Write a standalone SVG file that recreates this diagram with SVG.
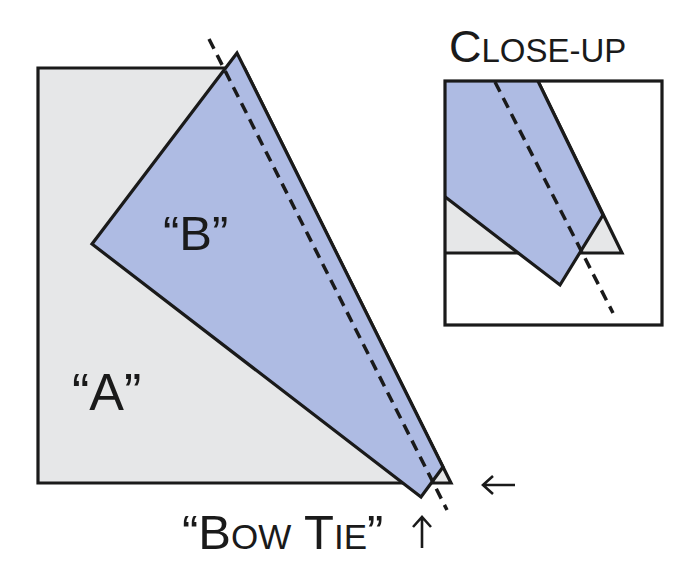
<svg xmlns="http://www.w3.org/2000/svg" width="700" height="568" viewBox="0 0 700 568">
<style>
.ln{stroke:#1a1a1a;stroke-width:3.2;stroke-linejoin:miter;fill:none}
.gray{fill:#e6e7e8;stroke:#1a1a1a;stroke-width:3.2}
.blue{fill:#aebbe3;stroke:#1a1a1a;stroke-width:3.2}
.dash{stroke:#1a1a1a;stroke-width:3.5;stroke-dasharray:11 7;fill:none}
.t{font-family:"Liberation Sans",Arial,sans-serif;fill:#1a1a1a}
.arr{stroke:#1a1a1a;stroke-width:2.6;fill:none;stroke-linecap:butt}
</style>
<defs>
<clipPath id="insetClip"><rect x="445" y="81" width="217" height="244"/></clipPath>
</defs>
<rect width="700" height="568" fill="#ffffff"/>
<g id="pieceA">
<polygon class="gray" points="38,68 244.5,68 451,483 38,483"/>
</g>
<g id="pieceB">
<polygon class="blue" points="237,53 92,244 421,497 443,467"/>
</g>
<g id="labels">
<text class="t" x="72" y="410" font-size="52">“A”</text>
<text class="t" x="163" y="250" font-size="49">“B”</text>
<text class="t" x="182" y="549" font-size="49">“B<tspan font-size="35">OW</tspan> T<tspan font-size="35">IE</tspan>”</text>
</g>
<g id="closeup">
<text class="t" x="449" y="62" font-size="45">C<tspan font-size="33">LOSE-UP</tspan></text>
<g clip-path="url(#insetClip)">
<rect x="445" y="81" width="217" height="244" fill="#ffffff"/>
<polygon class="gray" points="440,75 535,75 622,253 440,253"/>
<polygon class="blue" points="440,75 535,75 603,215 560,285 440,193"/>
<line class="dash" x1="495" y1="82" x2="613" y2="313"/>
</g>
<rect x="445" y="81" width="217" height="244" class="ln"/>
</g>
<g id="connectors">
<line class="dash" x1="209" y1="39" x2="447" y2="510"/>
<path class="arr" d="M515,485 H483 M493,476 L483,485 L493,494"/>
<path class="arr" d="M422,548 V517 M413,527 L422,517 L431,527"/>
</g>
</svg>
